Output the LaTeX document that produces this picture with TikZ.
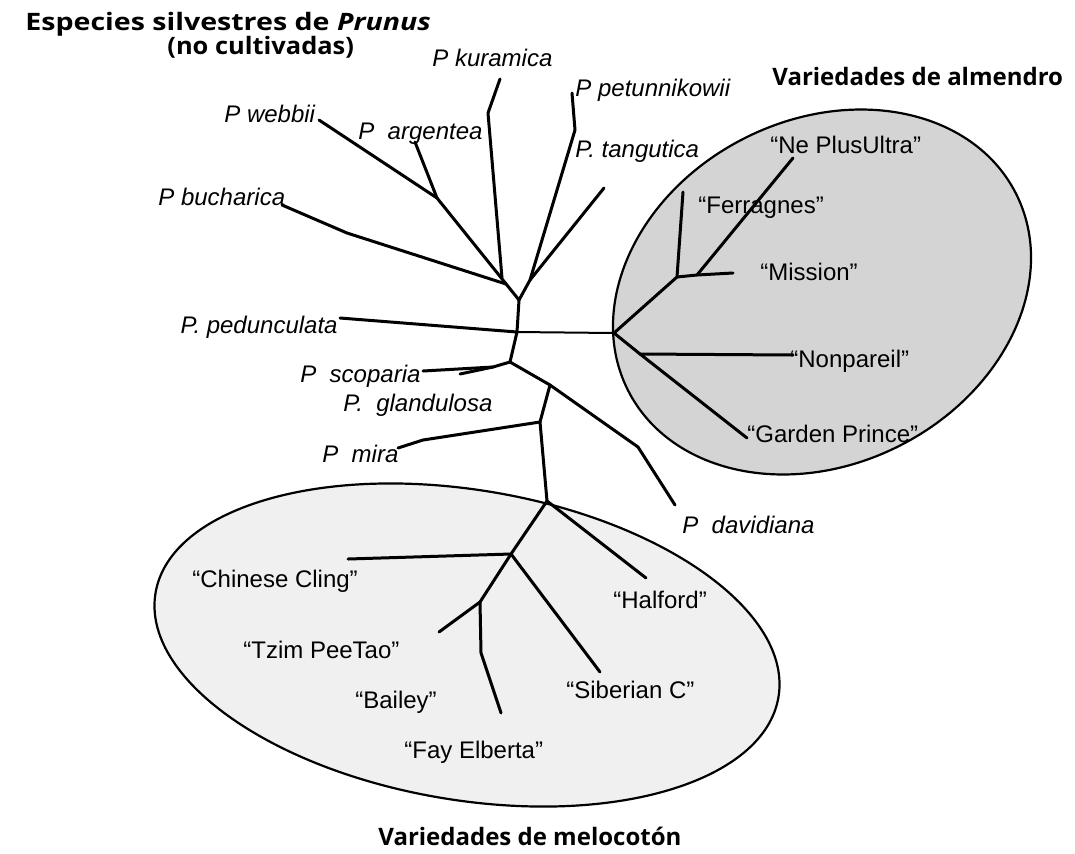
\documentclass[tikz,border=0pt]{standalone}
\usepackage{fontspec}
\setmainfont{Liberation Sans}
\newfontfamily\titlefont{Open Sans}
\usetikzlibrary{shapes.geometric}

\begin{document}
\begin{tikzpicture}[x = 0.5pt, y = -0.5pt]
  \useasboundingbox (0,0) rectangle (1075,853);
  \tikzset{GroupStyle/.style    = {shape          = ellipse,
                                   draw           = black,
                                   line width     = 1.1pt,
                                   inner sep      = 0pt}}
  \tikzset{BranchStyle/.style   = {line width     = 1.5pt,
                                   line join      = round,
                                   line cap       = round}}
  \tikzset{ThinBranch/.style    = {BranchStyle,
                                   line width     = 1pt}}
  \tikzset{SpeciesStyle/.style  = {font           = \fontsize{12}{14}\selectfont\itshape,
                                   inner sep      = 0pt,
                                   anchor         = base west}}
  \tikzset{CultivarStyle/.style = {font           = \fontsize{12}{14}\selectfont,
                                   inner sep      = 0pt,
                                   anchor         = base west}}
  \tikzset{TitleStyle/.style    = {font           = \titlefont\fontsize{12}{14}\selectfont\bfseries,
                                   inner sep      = 0pt,
                                   anchor         = base west}}

  % grupos de variedades
     \node[GroupStyle, fill = black!17, minimum width = 217.5pt,
           minimum height = 172.2pt, rotate = 27](almond) at (822,292) {};
     \node[GroupStyle, fill = black!6, minimum width = 315.8pt,
           minimum height = 155pt, rotate = -9.5](peach) at (467,645) {};

  % titulos
     \node[TitleStyle](tSilv) at (25,30)
          {\scalebox{1.19}[1]{Especies silvestres de \textit{Prunus}}};
     \node[TitleStyle](tNoCult) at (167,54) {\scalebox{1.06}[1]{(no cultivadas)}};
     \node[TitleStyle](tAlm) at (772,85) {Variedades de almendro};
     \node[TitleStyle](tMel) at (378,845) {Variedades de melocotón};

  % especies silvestres
     \node[SpeciesStyle](lKur) at (432,66) {P kuramica};
     \node[SpeciesStyle](lPet) at (575,96) {P petunnikowii};
     \node[SpeciesStyle](lWebb) at (224,122) {P webbii};
     \node[SpeciesStyle](lArg) at (358,139) {P~~argentea};
     \node[SpeciesStyle](lTang) at (575,157) {P. tangutica};
     \node[SpeciesStyle](lBuch) at (158,205) {P bucharica};
     \node[SpeciesStyle, anchor = base east](lPed) at (338,333) {P. pedunculata};
     \node[SpeciesStyle](lScop) at (300,382) {P~~scoparia};
     \node[SpeciesStyle](lGland) at (343,411) {P.~~glandulosa};
     \node[SpeciesStyle](lMira) at (322,462) {P~~mira};
     \node[SpeciesStyle](lDav) at (682,533) {P~~davidiana};

  % almendros
     \node[CultivarStyle](lNPU) at (770,153) {“Ne PlusUltra”};
     \node[CultivarStyle](lFerr) at (698,213) {“Ferragnes”};
     \node[CultivarStyle](lMiss) at (760,280) {“Mission”};
     \node[CultivarStyle](lNonp) at (790,367) {“Nonpareil”};
     \node[CultivarStyle](lGP) at (747,442) {“Garden Prince”};

  % melocotoneros
     \node[CultivarStyle](lCC) at (192,587) {“Chinese Cling”};
     \node[CultivarStyle](lHalf) at (613,608) {“Halford”};
     \node[CultivarStyle](lTzim) at (243,658) {“Tzim PeeTao”};
     \node[CultivarStyle](lBail) at (355,708) {“Bailey”};
     \node[CultivarStyle](lSib) at (566,698) {“Siberian C”};
     \node[CultivarStyle](lFay) at (404,758) {“Fay Elberta”};

  % nudos y puntas
     \coordinate (tBuch) at (282,205);  \coordinate (kBuch) at (347,233);
     \coordinate (eBuch) at (506,284);
     \coordinate (tWebb) at (319,120);  \coordinate (jArg) at (437,198);
     \coordinate (tArg) at (415,142);
     \coordinate (tKur) at (500,79);    \coordinate (kKur) at (488,113);
     \coordinate (eKur) at (502,278);
     \coordinate (tPet) at (572,93);    \coordinate (kPet) at (575,130);
     \coordinate (tTang) at (604,188);  \coordinate (jB) at (530,280);
     \coordinate (j1) at (519,300);     \coordinate (j2) at (517,332);
     \coordinate (j3) at (510,362);     \coordinate (tPed) at (340,318);
     \coordinate (rAlm) at (614,333);
     \coordinate (jS) at (493,367);     \coordinate (tScop) at (423,371);
     \coordinate (tGland) at (460,374);
     \coordinate (jK) at (550,385);     \coordinate (kDav) at (638,447);
     \coordinate (tDav) at (675,505);
     \coordinate (jM) at (540,422);     \coordinate (kMira) at (423,440);
     \coordinate (tMira) at (398,448);
     \coordinate (rPeach) at (547,501);
     \coordinate (jF) at (677,277);     \coordinate (tFerr) at (683,192);
     \coordinate (jG) at (697,275);     \coordinate (tMiss) at (733,273);
     \coordinate (tNPU) at (793,158);
     \coordinate (jH) at (640,354);     \coordinate (tGP) at (747,438);
     \coordinate (tNonp) at (793,355);
     \coordinate (tHalf) at (646,578);  \coordinate (jQ) at (511,554);
     \coordinate (tCC) at (348,559);    \coordinate (tSib) at (600,672);
     \coordinate (jT) at (480,602);     \coordinate (tTzim) at (439,632);
     \coordinate (jU) at (481,653);     \coordinate (tFay) at (501,713);

  % ramas silvestres
     \draw[BranchStyle](tBuch) -- (kBuch) -- (eBuch);
     \draw[BranchStyle](tWebb) -- (jArg) -- (j1);
     \draw[BranchStyle](tArg) -- (jArg);
     \draw[BranchStyle](tKur) -- (kKur) -- (eKur);
     \draw[BranchStyle](tPet) -- (kPet) -- (jB) -- (j1);
     \draw[BranchStyle](tTang) -- (jB);
     \draw[BranchStyle](j1) -- (j2) -- (j3) -- (jK) -- (kDav) -- (tDav);
     \draw[BranchStyle](tPed) -- (j2);
     \draw[ThinBranch](j2) -- (rAlm);
     \draw[BranchStyle](j3) -- (jS) -- (tScop);
     \draw[BranchStyle](jS) -- (tGland);
     \draw[BranchStyle](jK) -- (jM) -- (kMira) -- (tMira);
     \draw[BranchStyle](jM) -- (rPeach);

  % ramas almendro
     \draw[BranchStyle](rAlm) -- (jF) -- (tFerr);
     \draw[BranchStyle](jF) -- (jG) -- (tMiss);
     \draw[BranchStyle](jG) -- (tNPU);
     \draw[BranchStyle](rAlm) -- (jH) -- (tGP);
     \draw[BranchStyle](jH) -- (tNonp);

  % ramas melocotonero
     \draw[BranchStyle](rPeach) -- (tHalf);
     \draw[BranchStyle](rPeach) -- (jQ) -- (tCC);
     \draw[BranchStyle](jQ) -- (tSib);
     \draw[BranchStyle](jQ) -- (jT) -- (tTzim);
     \draw[BranchStyle](jT) -- (jU) -- (tFay);
\end{tikzpicture}
\end{document}
